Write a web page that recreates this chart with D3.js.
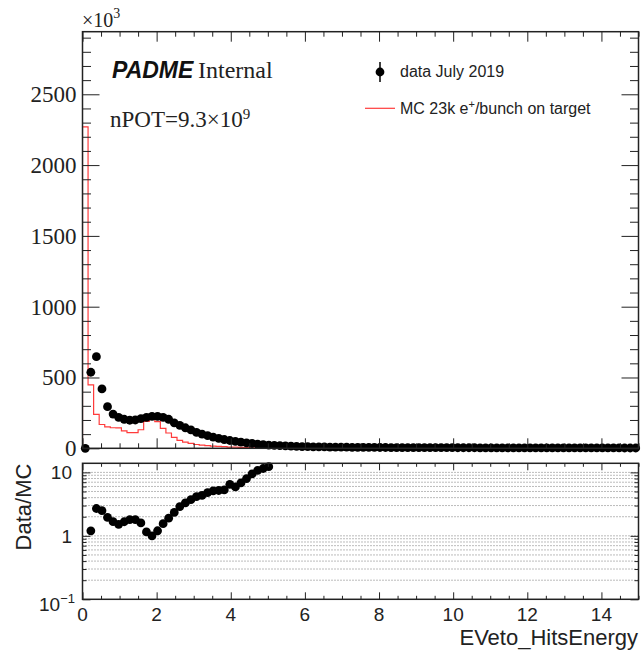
<!DOCTYPE html>
<html>
<head>
<meta charset="utf-8">
<script src="https://cdn.jsdelivr.net/npm/d3@7"></script>
<style>
    body { margin: 0; background: #fff; }
    svg { display: block; }
</style>
</head>
<body>
<script>
"use strict";

// histogram binning: 100 bins of 0.15 over [0, 15]
const binWidth = 0.15;

// data July 2019, counts per bin in units of 10^3
const dataCounts = [
    0, 537, 647, 419, 294, 242, 219, 205, 198, 200,
    209, 219, 226, 226, 219, 205, 180, 162, 145, 130,
    112, 100, 89, 79, 70, 62, 55, 49, 43, 38,
    34, 30, 26, 23, 21, 19, 17, 15, 13.5, 12.5,
    11.5, 10.5, 10, 9.5, 9, 8.5, 8, 7.6, 7.2, 6.9,
    6.6, 6.3, 6, 5.8, 5.6, 5.4, 5.2, 5, 4.9, 4.8,
    4.7, 4.6, 4.5, 4.4, 4.3, 4.2, 4.1, 4, 3.9, 3.8,
    3.8, 3.7, 3.6, 3.5, 3.5, 3.4, 3.3, 3.3, 3.2, 3.1,
    3.1, 3, 3, 2.9, 2.9, 2.8, 2.8, 2.7, 2.7, 2.6,
    2.6, 2.5, 2.5, 2.4, 2.4, 2.3, 2.3, 2.2, 2.2, 2.1
];

// MC 23k e+/bunch on target, units of 10^3 (bins after the list are empty)
const mcCounts = [
    2270, 448, 240, 168, 151, 145, 144, 123, 110, 111,
    131, 190, 226, 188, 141, 108, 77, 56, 44, 35,
    27, 23, 18.5, 15.5, 13.5, 11.7, 8.5, 8.3, 6.3, 4.75,
    3.6, 2.8, 2.26, 1.87, 1.2, 0.8, 0.5, 0.3, 0.15, 0.08,
    0.04
];

// axis ticks
const upperYTicks = [0, 500, 1000, 1500, 2000, 2500];
const xMajorTicks = [0, 2, 4, 6, 8, 10, 12, 14];
const ratioMajorTicks = [0.1, 1, 10];
const ratioMinorTicks = [0.2, 0.3, 0.4, 0.5, 0.6, 0.7, 0.8, 0.9, 2, 3, 4, 5, 6, 7, 8, 9];

const width = 642, height = 655;
const left = 82.5, right = 638.5;
const up = { top: 31.7, bottom: 448.3 };
const low = { top: 463.3, bottom: 599.3 };
const markerR = 4.4;

const serif = "'Liberation Serif', 'Times New Roman', serif";
const sans = "'Liberation Sans', Arial, Helvetica, sans-serif";

const svg = d3.select("body").append("svg")
    .attr("width", width)
    .attr("height", height);

const x = d3.scaleLinear().domain([0, 15]).range([left, right]);
const yUp = d3.scaleLinear().domain([0, 2942]).range([up.bottom, up.top]);
const yLow = d3.scaleLog().domain([0.1, 13.9]).range([low.bottom, low.top]);

const bins = dataCounts.map((d, i) => ({
    lo: i * binWidth,
    center: (i + 0.5) * binWidth,
    data: d,
    mc: mcCounts[i] ?? 0
}));

const xMinor = d3.range(0, 15.001, 0.5).filter(v => v % 2 !== 0);
const yUpMinor = d3.range(100, 2942, 100).filter(v => v % 500 !== 0);

// draws tick marks only (no labels, no domain line)
function ticks(axis, scale, values, size, tx, ty) {
    svg.append("g")
        .attr("transform", `translate(${tx},${ty})`)
        .style("color", "#222")
        .call(axis(scale).tickValues(values).tickSize(size).tickFormat(""))
        .call(g => g.select(".domain").remove())
        .selectAll("line").attr("stroke-width", 1);
}

// ---------------- upper panel ----------------
svg.append("defs").append("clipPath").attr("id", "clipUp")
    .append("rect")
    .attr("x", left).attr("y", up.top)
    .attr("width", right - left).attr("height", up.bottom - up.top);

// MC histogram as a step line
const steps = [];
bins.forEach(b => {
    steps.push([b.lo, b.mc]);
    steps.push([b.lo + binWidth, b.mc]);
});
const stepLine = d3.line()
    .x(d => x(d[0]))
    .y(d => yUp(d[1]));
svg.append("path")
    .attr("clip-path", "url(#clipUp)")
    .attr("d", stepLine([[0, 0]].concat(steps)))
    .attr("fill", "none")
    .attr("stroke", "#ff3b3b")
    .attr("stroke-width", 1.2);

// data markers
svg.append("g")
    .selectAll("circle")
    .data(bins)
    .enter()
    .append("circle")
    .attr("cx", d => x(d.center))
    .attr("cy", d => yUp(d.data))
    .attr("r", markerR)
    .attr("fill", "#000");

ticks(d3.axisLeft, yUp, upperYTicks, -17, left, 0);
ticks(d3.axisLeft, yUp, yUpMinor, -8.5, left, 0);
ticks(d3.axisRight, yUp, upperYTicks, -17, right, 0);
ticks(d3.axisRight, yUp, yUpMinor, -8.5, right, 0);
ticks(d3.axisTop, x, xMajorTicks, -10, 0, up.top);
ticks(d3.axisTop, x, xMinor, -5, 0, up.top);
ticks(d3.axisBottom, x, xMajorTicks, -10, 0, up.bottom);
ticks(d3.axisBottom, x, xMinor, -5, 0, up.bottom);

svg.append("rect")
    .attr("x", left).attr("y", up.top)
    .attr("width", right - left).attr("height", up.bottom - up.top)
    .attr("fill", "none").attr("stroke", "#222").attr("stroke-width", 1.5);

svg.append("g")
    .selectAll("text")
    .data(upperYTicks)
    .enter()
    .append("text")
    .attr("x", left - 6)
    .attr("y", d => yUp(d) + 8)
    .attr("text-anchor", "end")
    .style("font", `23px ${serif}`)
    .attr("fill", "#222")
    .text(d => d);

const expo = svg.append("text")
    .attr("x", 82).attr("y", 27)
    .style("font", `20px ${serif}`).attr("fill", "#222");
expo.append("tspan").text("×10");
expo.append("tspan").attr("dy", -9).style("font-size", "14px").text("3");

svg.append("text")
    .attr("x", 112).attr("y", 78)
    .style("font", `italic bold 23px ${sans}`)
    .attr("fill", "#111")
    .text("PADME");
svg.append("text")
    .attr("x", 198).attr("y", 78)
    .style("font", `24px ${serif}`)
    .attr("fill", "#222")
    .text("Internal");

const npot = svg.append("text")
    .attr("x", 110).attr("y", 127)
    .style("font", `23px ${serif}`).attr("fill", "#222");
npot.append("tspan").text("nPOT=9.3×10");
npot.append("tspan").attr("dy", -8).style("font-size", "15px").text("9");

// legend
svg.append("line")
    .attr("x1", 380).attr("x2", 380).attr("y1", 62).attr("y2", 82)
    .attr("stroke", "#000").attr("stroke-width", 1.5);
svg.append("circle")
    .attr("cx", 380).attr("cy", 72).attr("r", markerR).attr("fill", "#000");
svg.append("text")
    .attr("x", 400).attr("y", 76.5)
    .style("font", `16px ${sans}`).attr("fill", "#222")
    .text("data July 2019");
svg.append("line")
    .attr("x1", 365).attr("x2", 395).attr("y1", 108.3).attr("y2", 108.3)
    .attr("stroke", "#ff3b3b").attr("stroke-width", 1.2);
const mcLabel = svg.append("text")
    .attr("x", 400).attr("y", 114)
    .style("font", `16px ${sans}`).attr("fill", "#222");
mcLabel.append("tspan").text("MC 23k e");
mcLabel.append("tspan").attr("dy", -6).style("font-size", "11px").text("+");
mcLabel.append("tspan").attr("dy", 6).text("/bunch on target");

// ---------------- ratio panel ----------------
const gridValues = ratioMinorTicks.concat(ratioMajorTicks).filter(v => v > 0.1);
svg.append("g")
    .selectAll("line")
    .data(gridValues)
    .enter()
    .append("line")
    .attr("x1", left).attr("x2", right)
    .attr("y1", d => yLow(d)).attr("y2", d => yLow(d))
    .attr("stroke", "#777")
    .attr("stroke-width", 1)
    .attr("stroke-dasharray", "1,2");

const [rMin, rMax] = yLow.domain();
const ratios = bins
    .filter(b => b.mc > 0 && b.data > 0)
    .map(b => ({ center: b.center, r: b.data / b.mc }))
    .filter(d => d.r >= rMin && d.r <= rMax);

svg.append("g")
    .selectAll("circle")
    .data(ratios)
    .enter()
    .append("circle")
    .attr("cx", d => x(d.center))
    .attr("cy", d => yLow(d.r))
    .attr("r", markerR)
    .attr("fill", "#000");

ticks(d3.axisLeft, yLow, ratioMajorTicks, -8, left, 0);
ticks(d3.axisLeft, yLow, ratioMinorTicks, -4, left, 0);
ticks(d3.axisRight, yLow, ratioMajorTicks, -8, right, 0);
ticks(d3.axisRight, yLow, ratioMinorTicks, -4, right, 0);
ticks(d3.axisTop, x, xMajorTicks, -7, 0, low.top);
ticks(d3.axisTop, x, xMinor, -3.5, 0, low.top);
ticks(d3.axisBottom, x, xMajorTicks, -7, 0, low.bottom);
ticks(d3.axisBottom, x, xMinor, -3.5, 0, low.bottom);

svg.append("rect")
    .attr("x", left).attr("y", low.top)
    .attr("width", right - left).attr("height", low.bottom - low.top)
    .attr("fill", "none").attr("stroke", "#222").attr("stroke-width", 1.5);

svg.append("g")
    .selectAll("text")
    .data(xMajorTicks)
    .enter()
    .append("text")
    .attr("x", d => x(d))
    .attr("y", 620.5)
    .attr("text-anchor", "middle")
    .style("font", `19px ${sans}`)
    .attr("fill", "#222")
    .text(d => d);

svg.append("text")
    .attr("x", 72).attr("y", yLow(10) + 7)
    .attr("text-anchor", "end")
    .style("font", `19px ${sans}`).attr("fill", "#222")
    .text("10");
svg.append("text")
    .attr("x", 72).attr("y", yLow(1) + 7)
    .attr("text-anchor", "end")
    .style("font", `19px ${sans}`).attr("fill", "#222")
    .text("1");
const tenth = svg.append("text")
    .attr("x", 75).attr("y", 611)
    .attr("text-anchor", "end")
    .style("font", `19px ${sans}`).attr("fill", "#222");
tenth.append("tspan").text("10");
tenth.append("tspan").attr("dy", -8).style("font-size", "13px").text("−1");

svg.append("text")
    .attr("transform", "translate(31,507) rotate(-90)")
    .attr("text-anchor", "middle")
    .style("font", `22px ${sans}`).attr("fill", "#222")
    .text("Data/MC");

svg.append("text")
    .attr("x", 638).attr("y", 645)
    .attr("text-anchor", "end")
    .style("font", `22px ${sans}`).attr("fill", "#222")
    .text("EVeto_HitsEnergy");
</script>
</body>
</html>
